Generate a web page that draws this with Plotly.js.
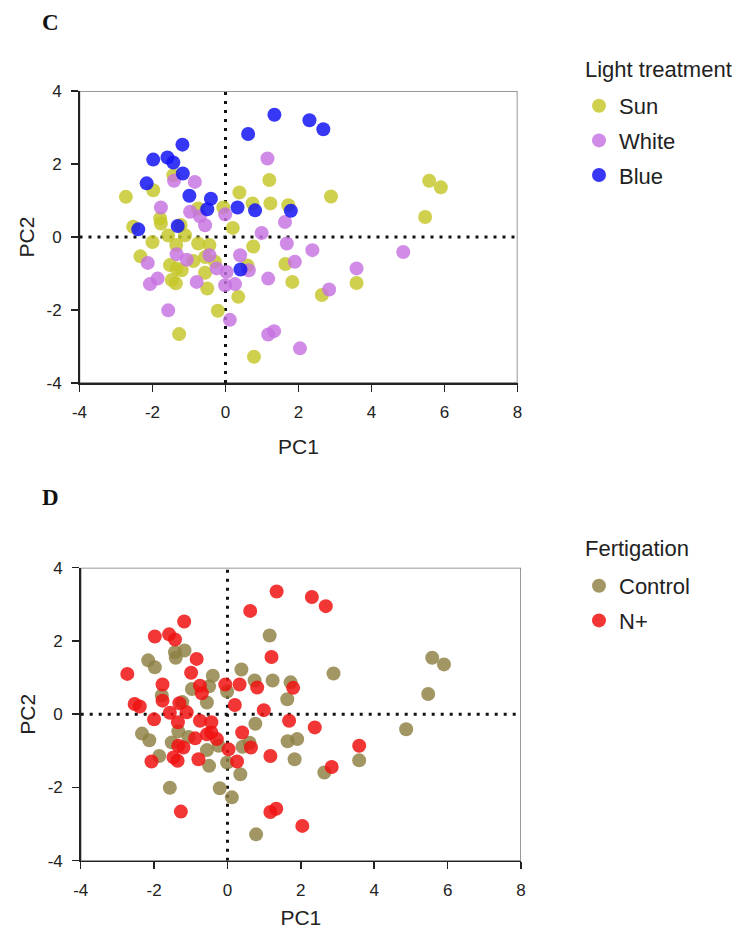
<!DOCTYPE html>
<html><head><meta charset="utf-8">
<script src="https://cdn.plot.ly/plotly-3.0.1.min.js"></script>
<style>html,body{margin:0;padding:0;background:#fff}#chart{width:745px;height:936px}</style>
</head><body><div id="chart"></div>
<script>
// ---- data (PC scores) ----
const pc1 = [
  // Blue light
  0.62,-1.18,-1.98,-1.59,-1.43,-1.17,-2.16,-0.99,-0.40,-0.50,0.33,0.81,1.79,-2.39,-1.31,0.41,2.30,2.68,1.34,
  // Sun
  1.20,-2.73,-1.98,-1.43,0.38,0.74,1.23,1.72,-0.06,-0.75,-1.79,-1.77,-2.53,-1.23,0.20,-1.57,-1.11,-2.00,-1.35,-0.75,
  -0.44,0.76,-2.33,-1.52,-1.34,-1.20,-0.88,-0.56,-0.29,-0.56,0.60,1.64,1.83,-1.47,-1.36,-0.50,0.35,-0.21,-1.27,0.78,
  3.59,2.64,5.58,5.90,5.47,2.89,
  // White
  1.15,-0.84,-1.41,-1.77,-0.97,-0.70,-0.56,-0.01,0.99,1.63,1.68,1.90,-2.13,-1.34,-1.06,-0.44,-0.24,0.03,0.40,0.64,
  1.17,-1.86,-2.07,-0.79,-0.01,0.26,-1.57,0.12,1.17,1.33,2.04,2.38,4.87,3.59,2.84
];
const pc2 = [
  2.82,2.53,2.12,2.18,2.04,1.74,1.47,1.13,1.05,0.76,0.81,0.73,0.72,0.21,0.30,-0.89,3.20,2.95,3.35,
  1.56,1.10,1.28,1.69,1.22,0.92,0.92,0.87,0.81,0.78,0.51,0.37,0.28,0.33,0.25,0.04,0.05,-0.14,-0.22,-0.18,
  -0.22,-0.26,-0.53,-0.77,-0.86,-0.91,-0.66,-0.55,-0.68,-0.98,-0.78,-0.74,-1.23,-1.18,-1.27,-1.41,-1.64,-2.02,-2.66,-3.28,
  -1.26,-1.59,1.54,1.36,0.55,1.11,
  2.15,1.51,1.54,0.81,0.69,0.57,0.32,0.62,0.11,0.41,-0.18,-0.68,-0.71,-0.47,-0.62,-0.50,-0.86,-0.96,-0.50,-0.91,
  -1.14,-1.14,-1.29,-1.23,-1.32,-1.29,-2.01,-2.27,-2.67,-2.58,-3.05,-0.36,-0.41,-0.86,-1.44
];
const light = [].concat(
  Array(19).fill('Blue'), Array(46).fill('Sun'), Array(35).fill('White')
);
const fert = [
  'N+','N+','N+','N+','N+','Control','Control','N+','Control','Control','N+','N+','N+','N+','N+','Control','N+','N+','N+',
  'N+','N+','Control','Control','Control','Control','Control','Control','N+','N+','Control','N+','N+','Control','N+','N+','N+','N+','N+','N+',
  'N+','Control','Control','Control','N+','N+','N+','N+','N+','Control','Control','Control','Control','N+','N+','Control','Control','Control','N+','Control',
  'Control','Control','Control','Control','Control','Control',
  'Control','N+','Control','N+','Control','N+','Control','Control','N+','Control','N+','Control','Control','Control','Control','N+','Control','N+','N+','N+',
  'N+','Control','N+','N+','Control','N+','Control','Control','N+','N+','N+','N+','Control','N+','N+'
];
const lightGroups = ['Sun','White','Blue'];
const lightColors = ['rgba(198,198,40,0.82)','rgba(198,114,224,0.82)','rgba(20,20,245,0.85)'];
const fertGroups = ['Control','N+'];
const fertColors = ['rgba(142,128,66,0.82)','rgba(240,18,18,0.85)'];
const xTicks = [-4,-2,0,2,4,6,8];
const xTickText = ['-4','-2','0','2','4','6','8'];
const yTicks = [-4,-2,0,2,4];
const yTickText = ['-4','-2','0','2','4'];

// ---- build traces ----
const traces = [];
function pick(groupArr, g){
  const xs=[], ys=[];
  groupArr.forEach((v,i)=>{ if(v===g){ xs.push(pc1[i]); ys.push(pc2[i]); } });
  return [xs, ys];
}
lightGroups.forEach((g,k)=>{
  const [xs,ys] = pick(light,g);
  traces.push({type:'scatter',mode:'markers',x:xs,y:ys,name:g,xaxis:'x',yaxis:'y',
    legend:'legend',legendgroup:'L'+g,
    marker:{size:14,color:lightColors[k],line:{width:0}}});
});
fertGroups.forEach((g,k)=>{
  const [xs,ys] = pick(fert,g);
  traces.push({type:'scatter',mode:'markers',x:xs,y:ys,name:g,xaxis:'x2',yaxis:'y2',
    legend:'legend2',legendgroup:'F'+g,
    marker:{size:14,color:fertColors[k],line:{width:0}}});
});

const W=745, H=936;
const FONT='"Liberation Sans", Arial, sans-serif';
function ax(domain, range, ticks, ticktext, title, anchor, standoff){
  return {domain:domain, range:range, tickvals:ticks, ticktext:ticktext, anchor:anchor,
    showgrid:false, zeroline:false, showline:true, linecolor:'#222', linewidth:1.5,
    ticks:'outside', ticklen:7, tickwidth:1.5, tickcolor:'#222',
    ticklabelstandoff:6,
    tickfont:{family:FONT,size:17,color:'#222'},
    title:{text:title, font:{family:FONT,size:21,color:'#222'}, standoff:standoff},
    fixedrange:true};
}
const cx=[79.5/W, 517.5/W], cy=[1-383/H, 1-91/H];
const dx=[80.7/W, 521/W], dy=[1-860.7/H, 1-567.7/H];

function zeroLines(xr, yr){
  const dash='3px,6px';
  return [
    {type:'rect',xref:xr,yref:yr,x0:-4,x1:8,y0:-4,y1:4,line:{color:'#777',width:1.5},layer:'below'},
    {type:'line',xref:xr,yref:yr,x0:0,x1:0,y0:-4,y1:4,line:{color:'#111',width:3,dash:dash},layer:'below'},
    {type:'line',xref:xr,yref:yr,x0:-4,x1:8,y0:0,y1:0,line:{color:'#111',width:3,dash:dash},layer:'below'}
  ];
}

const legendBase = {xanchor:'left',yanchor:'top',bgcolor:'rgba(0,0,0,0)',
  font:{family:FONT,size:22,color:'#222'},tracegroupgap:3,traceorder:'grouped',itemclick:false,itemdoubleclick:false};

const layout = {
  width:W, height:H, margin:{l:0,r:0,t:0,b:0},
  paper_bgcolor:'#fff', plot_bgcolor:'#fff',
  showlegend:true,
  xaxis: ax(cx,[-4,8],xTicks,xTickText,'PC1','y',18),
  yaxis: ax(cy,[-4,4],yTicks,yTickText,'PC2','x',6),
  xaxis2: ax(dx,[-4,8],xTicks,xTickText,'PC1','y2',11),
  yaxis2: ax(dy,[-4,4],yTicks,yTickText,'PC2','x2',6),
  shapes: zeroLines('x','y').concat(zeroLines('x2','y2')),
  legend: Object.assign({}, legendBase, {x:579/W, y:1-85/H}),
  legend2: Object.assign({}, legendBase, {x:579/W, y:1-565/H}),
  annotations:[
    {text:'<b>C</b>',xref:'paper',yref:'paper',x:50/W,y:1-22/H,xanchor:'center',yanchor:'middle',showarrow:false,
     font:{family:'"Liberation Serif", "Times New Roman", serif',size:23,color:'#111'}},
    {text:'<b>D</b>',xref:'paper',yref:'paper',x:50/W,y:1-497/H,xanchor:'center',yanchor:'middle',showarrow:false,
     font:{family:'"Liberation Serif", "Times New Roman", serif',size:23,color:'#111'}},
    {text:'Light treatment',xref:'paper',yref:'paper',x:583/W,y:1-70/H,xanchor:'left',yanchor:'middle',showarrow:false,
     font:{family:FONT,size:22,color:'#222'}},
    {text:'Fertigation',xref:'paper',yref:'paper',x:583/W,y:1-548/H,xanchor:'left',yanchor:'middle',showarrow:false,
     font:{family:FONT,size:22,color:'#222'}}
  ]
};
Plotly.newPlot('chart', traces, layout, {displayModeBar:false, staticPlot:true});
</script></body></html>
